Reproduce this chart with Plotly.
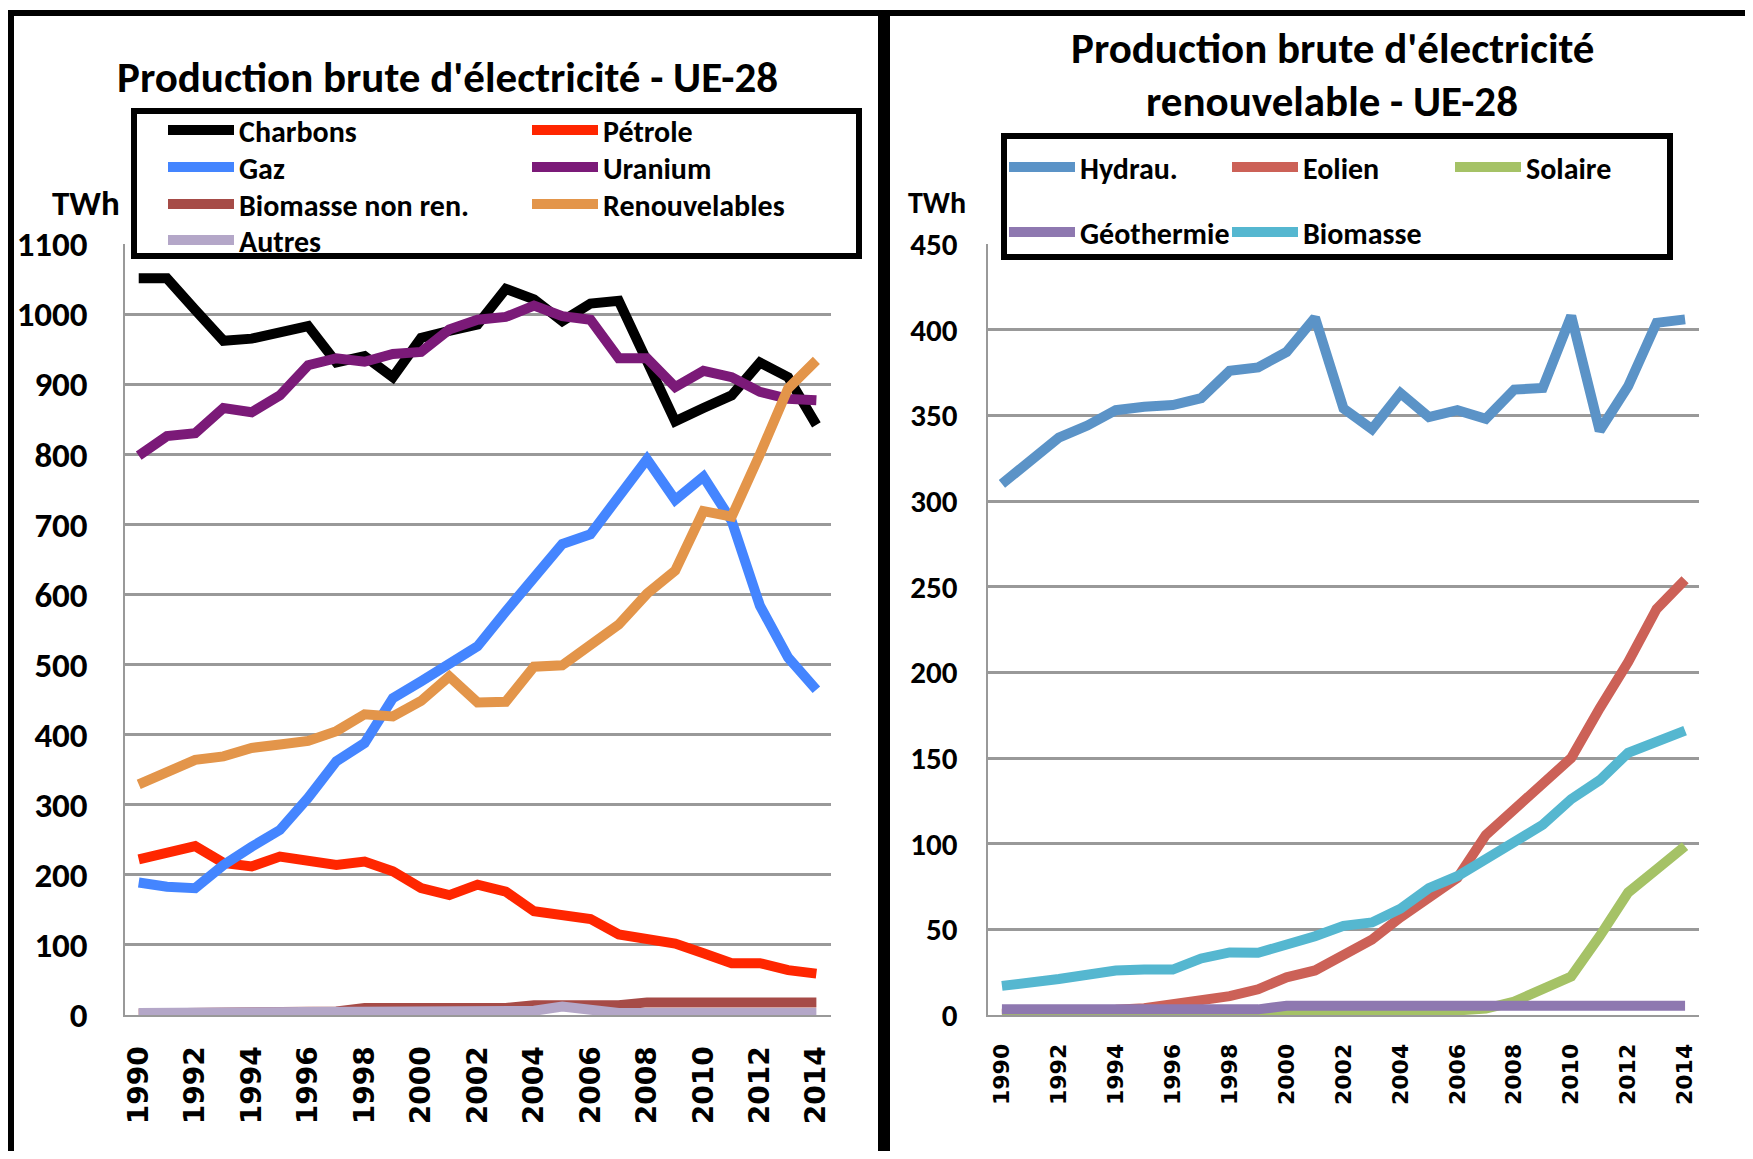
import plotly.graph_objects as go

# page is 1753x1159; the html body keeps an 8px margin, so the figure is a bit smaller
PAGE_W, PAGE_H = 1753, 1159
OFF = 8
W, H = PAGE_W - 2 * OFF, PAGE_H - 2 * OFF

years = list(range(1990, 2015))

# Production brute d'électricité - UE-28 (TWh)
charbons = [1051, 1051, 1006, 962, 965, 973, 983, 931, 940, 910, 966, 976, 985,
            1036, 1021, 990, 1015, 1019, 935, 847, 866, 884, 931, 910, 842]
petrole = [222, 233, 241, 217, 212, 226, 221, 214, 219, 205, 181, 171, 186,
           176, 148, 143, 137, 115, 110, 102, 88, 74, 74, 64, 59]
gaz = [189, 183, 181, 214, 240, 264, 310, 362, 388, 452, 476, 500, 526,
       576, 623, 672, 686, 738, 793, 735, 768, 705, 584, 510, 464]
uranium = [798, 826, 830, 866, 860, 884, 927, 937, 932, 943, 946, 978, 992,
           996, 1012, 997, 992, 937, 937, 896, 919, 910, 889, 879, 877]
biomasse_nr = [2, 2, 2, 2, 2, 2, 2, 5, 10, 10, 10, 10, 10,
               10, 14, 14, 14, 14, 18, 18, 18, 18, 18, 18, 18]
renouvelables = [329, 345, 364, 369, 381, 386, 391, 405, 429, 426, 448, 483, 446,
                 447, 497, 499, 530, 557, 601, 634, 719, 711, 800, 894, 934]
autres = [3, 3, 3, 3, 3, 3, 3, 3, 3, 3, 3, 3, 3,
          3, 6, 12, 7, 3, 3, 3, 3, 3, 3, 3, 3]

# Production brute d'électricité renouvelable - UE-28 (TWh)
hydrau = [310, 324, 337, 344, 353, 355, 356, 360, 376, 378, 387, 407, 354,
          342, 363, 349, 353, 348, 365, 366, 408, 341, 367, 404, 406]
eolien = [0.8, 1, 1.5, 2, 3, 4, 6, 8, 11, 15, 22, 26, 35,
          44, 57, 69, 80, 105, 120, 134, 150, 179, 206, 237, 254]
solaire = [0, 0, 0, 0, 0, 0, 0, 0, 0.1, 0.1, 0.1, 0.2, 0.3,
           0.5, 0.7, 1.5, 2.5, 3.8, 7.8, 14.7, 22.5, 46, 71.5, 85, 98.5]
geothermie = [3.3, 3.3, 3.3, 3.3, 3.3, 3.3, 3.3, 3.3, 3.3, 3.3, 5.4, 5.4, 5.4,
              5.4, 5.4, 5.4, 5.4, 5.4, 5.4, 5.4, 5.4, 5.4, 5.4, 5.4, 5.4]
biomasse = [17, 18.6, 21, 23.5, 26, 26.5, 26.5, 33, 36.5, 36.3, 40.5, 46, 52,
            54, 62, 74, 81, 91, 101, 111, 126, 137, 153, 160, 166]

left_series = [
    ("Charbons", charbons, "#000000"),
    ("Pétrole", petrole, "#FF2600"),
    ("Gaz", gaz, "#4485FF"),
    ("Uranium", uranium, "#7B1A78"),
    ("Biomasse non ren.", biomasse_nr, "#A64B47"),
    ("Renouvelables", renouvelables, "#E3954A"),
    ("Autres", autres, "#B4A7C8"),
]
right_series = [
    ("Hydrau.", hydrau, "#5B93C7"),
    ("Eolien", eolien, "#CC6157"),
    ("Solaire", solaire, "#A5C266"),
    ("Géothermie", geothermie, "#8E78B0"),
    ("Biomasse", biomasse, "#55B7D0"),
]

# legend slot (x of sample start, y of row centre) in page pixels
left_slots = [(168, 130), (532, 130), (168, 167), (532, 167),
              (168, 204), (532, 204), (168, 240)]
right_slots = [(1009, 167), (1232, 167), (1455, 167), (1009, 232), (1232, 232)]

TXT = "Carlito, Calibri, 'Liberation Sans Narrow', Roboto, sans-serif"
TICK = "'DejaVu Sans', Verdana, sans-serif"


def px_x(x):
    return (x - OFF) / W


def px_y(y):
    return 1 - (y - OFF) / H


fig = go.Figure()
layout_legends = {}
n = 0
for series, slots, xa, ya in [(left_series, left_slots, "x", "y"),
                              (right_series, right_slots, "x2", "y2")]:
    for (name, vals, color), (sx, sy) in zip(series, slots):
        n += 1
        key = "legend" if n == 1 else "legend%d" % n
        fig.add_trace(go.Scatter(x=years, y=vals, name=name, mode="lines",
                                 line=dict(color=color, width=10),
                                 xaxis=xa, yaxis=ya, legend=key))
        layout_legends[key] = dict(
            x=px_x(sx - 5), y=px_y(sy), xanchor="left", yanchor="middle",
            bgcolor="rgba(0,0,0,0)", borderwidth=0, itemwidth=66,
            font=dict(family=TXT, size=30, color="black", weight="bold"),
        )

axis_common = dict(showline=True, linecolor="#999999", linewidth=2,
                   zeroline=False)
xaxis_common = dict(axis_common, range=[1989.5, 2014.5],
                    tickvals=list(range(1990, 2015, 2)), tickangle=-90,
                    showgrid=False, ticks="", ticklabelstandoff=18)
yaxis_common = dict(axis_common, showgrid=True, gridcolor="#999999",
                    gridwidth=3, ticks="")

fig.update_layout(
    width=W, height=H,
    margin=dict(l=0, r=0, t=0, b=0, autoexpand=False),
    paper_bgcolor="white", plot_bgcolor="white",
    showlegend=True,
    xaxis=dict(xaxis_common, domain=[px_x(124.6), px_x(830.5)], anchor="y",
               tickfont=dict(family=TICK, size=28, color="black", weight="bold")),
    yaxis=dict(yaxis_common, domain=[px_y(1015), px_y(244)], anchor="x",
               range=[0, 1100], dtick=100, ticklabelstandoff=28,
               tickfont=dict(family=TXT, size=35, color="black", weight="bold")),
    xaxis2=dict(xaxis_common, domain=[px_x(987.7), px_x(1699.3)], anchor="y2",
                tickfont=dict(family=TICK, size=22, color="black", weight="bold")),
    yaxis2=dict(yaxis_common, domain=[px_y(1015), px_y(244)], anchor="x2",
                range=[0, 450], dtick=50, ticklabelstandoff=22,
                tickfont=dict(family=TXT, size=31, color="black", weight="bold")),
    **layout_legends,
)

# panel frames and legend boxes
frame = dict(type="rect", xref="paper", yref="paper", layer="above",
             line=dict(color="black", width=6))
fig.add_shape(frame, x0=px_x(11), x1=px_x(881), y0=px_y(1200), y1=px_y(13))
fig.add_shape(frame, x0=px_x(887), x1=px_x(1780), y0=px_y(1200), y1=px_y(13))
fig.add_shape(frame, x0=px_x(134), x1=px_x(859), y0=px_y(256), y1=px_y(111),
              fillcolor="white")
fig.add_shape(frame, x0=px_x(1004), x1=px_x(1670), y0=px_y(257), y1=px_y(136),
              fillcolor="white")


def label(text, x, y, size):
    fig.add_annotation(text=text, x=px_x(x), y=px_y(y), xref="paper", yref="paper",
                       xanchor="center", yanchor="middle", showarrow=False,
                       font=dict(family=TXT, size=size, color="black", weight="bold"))


label("Production brute d'électricité - UE-28", 447, 78, 43)
label("Production brute d'électricité", 1332, 49, 43)
label("renouvelable - UE-28", 1332, 101, 43)
label("TWh", 86, 203, 35)
label("TWh", 937, 202, 30)

fig.write_html("out.html")
